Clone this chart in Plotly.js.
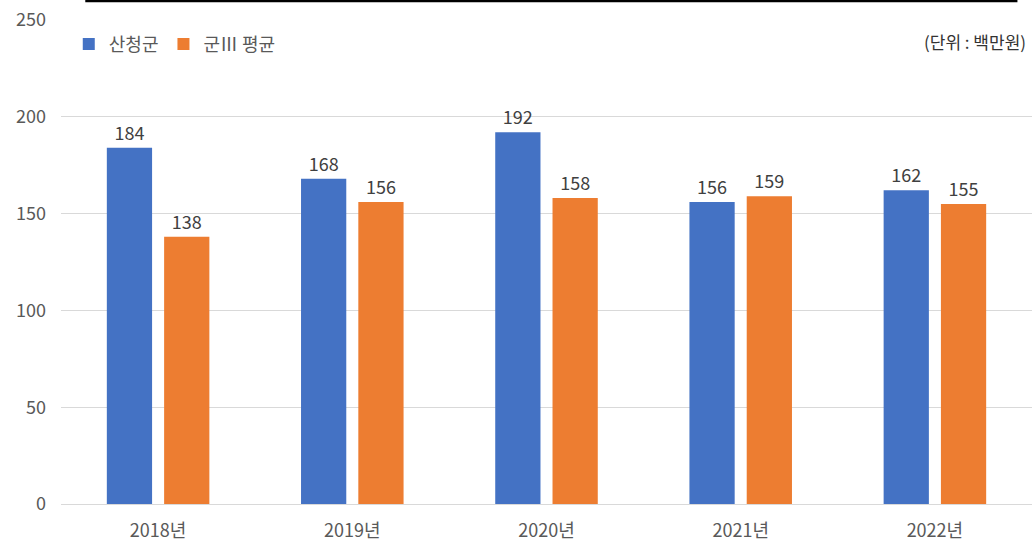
<!DOCTYPE html>
<html><head><meta charset="utf-8">
<script src="https://cdn.plot.ly/plotly-3.0.1.min.js"></script>
<style>html,body{margin:0;padding:0;background:#fff}#c{width:1032px;height:542px}</style>
</head><body><div id="c"></div>
<script>
const categories = ['2018년','2019년','2020년','2021년','2022년'];
const sancheong = [184,168,192,156,162];
const gunAvg = [138,156,158,159,155];
const seriesNames = ['산청군','군Ⅲ 평균'];
const unitLabel = '(단위 : 백만원)';
const F = '"Noto Sans CJK KR","Noto Sans",sans-serif';
const mk = (y,name,color)=>({type:'bar',x:categories,y:y,name:name,marker:{color:color},
  text:y.map(String),textposition:'outside',cliponaxis:false,
  textfont:{family:F,size:18,color:'#404040'},hoverinfo:'skip'});
const data=[mk(sancheong,seriesNames[0],'#4472C4'),mk(gunAvg,seriesNames[1],'#ED7D31')];
const layout={width:1032,height:542,margin:{l:61,r:0,t:20,b:38},
  paper_bgcolor:'#fff',plot_bgcolor:'#fff',font:{family:F,color:'#595959',size:18},
  barmode:'group',bargap:0.41,bargroupgap:0.21,
  xaxis:{showgrid:false,zeroline:false,showline:false,ticks:'',ticklabelstandoff:14,tickfont:{family:F,size:18,color:'#595959'}},
  yaxis:{range:[0,250],dtick:50,showgrid:true,gridcolor:'#d9d9d9',gridwidth:1,zeroline:true,zerolinecolor:'#d9d9d9',showline:false,ticks:'',ticklabelstandoff:14,tickfont:{family:F,size:18,color:'#595959'}},
  showlegend:true,
  legend:{orientation:'h',x:0.008,xanchor:'left',y:0.95,yanchor:'middle',bgcolor:'rgba(0,0,0,0)',font:{family:F,size:18,color:'#595959'},itemwidth:30,traceorder:'normal'},
  annotations:[{text:unitLabel,xref:'paper',yref:'paper',x:0.996,y:0.955,xanchor:'right',yanchor:'middle',showarrow:false,font:{family:F,size:17,color:'#333333'}}],
  shapes:[{type:'line',xref:'paper',yref:'paper',x0:0.025,x1:0.985,y0:1.04,y1:1.04,line:{color:'#000',width:3}}]
};
Plotly.newPlot('c',data,layout,{displayModeBar:false,staticPlot:true});
</script></body></html>
